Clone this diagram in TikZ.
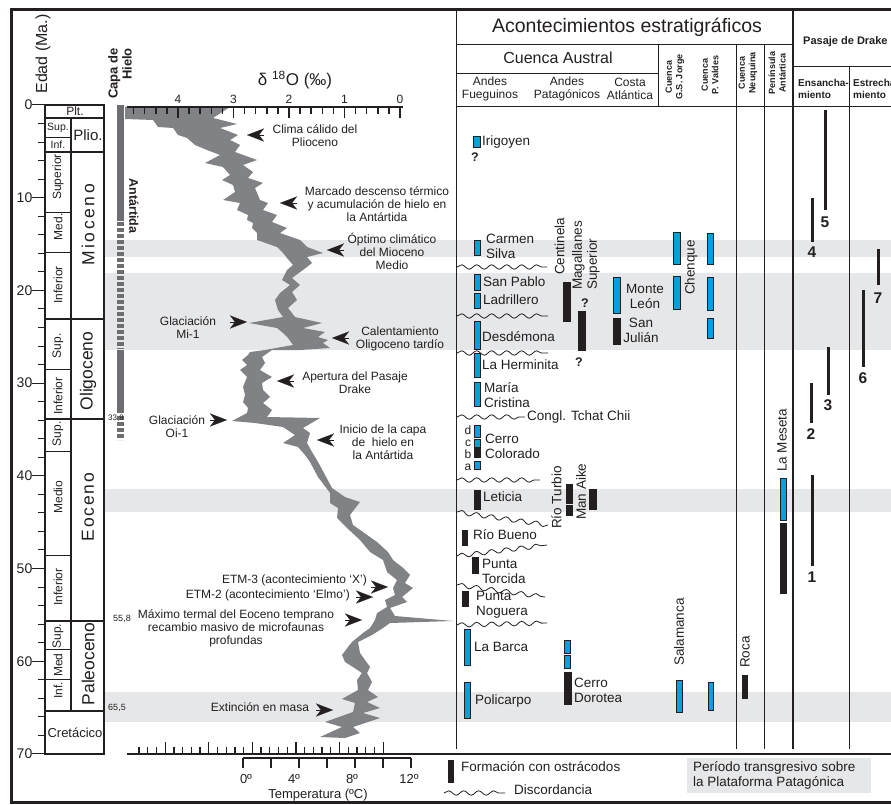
\documentclass[tikz,border=0pt]{standalone}
\usepackage{fontspec}
\setmainfont{Liberation Sans}
\usetikzlibrary{arrows.meta,decorations.pathmorphing}

\definecolor{banda}{RGB}{230,231,232}
\definecolor{curva}{RGB}{128,130,133}
\definecolor{hielo}{RGB}{109,110,113}
\definecolor{azulfm}{RGB}{0,161,224}
\definecolor{tinta}{RGB}{35,31,32}

\tikzset{
  nota/.style={font=\fontsize{12}{13}\selectfont, align=center},
  fm/.style={font=\fontsize{13.5}{15}\selectfont, align=left, anchor=west},
  vert/.style={font=\fontsize{13.5}{15}\selectfont, rotate=90},
  subep/.style={font=\fontsize{12}{12}\selectfont, rotate=90},
  epoca/.style={font=\fontsize{17.5}{17.5}\selectfont, rotate=90},
  cab/.style={font=\bfseries\fontsize{9}{10.5}\selectfont, rotate=90, align=center},
  azul/.style={fill=azulfm, draw=tinta, line width=0.6pt},
  negro/.style={fill=tinta, draw=tinta, line width=0.6pt},
  discord/.style={decorate, decoration={snake, segment length=15pt, amplitude=2.2pt}, line width=0.8pt, draw=tinta},
  drake/.style={line width=3pt, draw=tinta},
  num/.style={font=\bfseries\fontsize{15.5}{15.5}\selectfont},
  duda/.style={font=\bfseries\fontsize{12.5}{12.5}\selectfont},
  flecha/.style={-{Stealth[length=17pt,width=13pt,inset=5pt]}, draw=tinta, line width=0.1pt},
}

\begin{document}
\begin{tikzpicture}[x=1pt, y=-1pt, every node/.append style={inner sep=0pt, text=tinta}]
\useasboundingbox (0,0) rectangle (891,805);

% bandas de los periodos transgresivos
\fill[banda] (104,240) rectangle (891,257);
\fill[banda] (104,273) rectangle (891,350);
\fill[banda] (104,489) rectangle (891,512);
\fill[banda] (104,692) rectangle (891,722);

% marco
\draw[line width=3pt, tinta] (891,10) -- (11,10) -- (11,802.5) -- (891,802.5);

% escala de edades
\node[font=\fontsize{16}{16}\selectfont, rotate=90] (edad) at (43,54) {Edad (Ma.)};
\foreach \m in {0,2,...,70}{
  \pgfmathsetmacro\yy{105+9.27*\m}
  \pgfmathsetmacro\xx{mod(\m,10)==0 ? 32 : 38}
  \draw[line width=1pt, tinta] (\xx,\yy) -- (45,\yy);
}
\foreach \m in {0,10,...,70}
  \node[anchor=east, font=\fontsize{14}{14}\selectfont] (edad\m) at (32.5,{105+9.27*\m}) {\m};

% columna cronoestratigrafica
\draw[line width=1.5pt, tinta] (45,105) rectangle (104,754);
\draw[line width=1.5pt, tinta] (45,118) -- (104,118) (45,152) -- (104,152) (45,319) -- (104,319)
  (45,419) -- (104,419) (45,621) -- (104,621) (45,711) -- (104,711);
\draw[line width=1.2pt, tinta] (71,118) -- (71,711);
\draw[line width=0.8pt, tinta] (45,137) -- (71,137) (45,212) -- (71,212) (45,252) -- (71,252)
  (45,369) -- (71,369) (45,451) -- (71,451) (45,555) -- (71,555) (45,649) -- (71,649) (45,679) -- (71,679);
\node[font=\fontsize{12}{12}\selectfont] (plt) at (75,111.5) {Plt.};
\node[font=\fontsize{10.5}{10.5}\selectfont] (pliosup) at (58,127.5) {Sup.};
\node[font=\fontsize{10.5}{10.5}\selectfont] (plioinf) at (58,145) {Inf.};
\node[font=\fontsize{15}{15}\selectfont] (plio) at (88,135) {Plio.};
\node[subep] (miosup) at (58,177) {Superior};
\node[subep] (miomed) at (58,227) {Med.};
\node[subep] (mioinf) at (58,285) {Inferior};
\node[epoca, font={\fontsize{17.5}{17.5}\selectfont\addfontfeature{LetterSpace=15}}] (mioceno) at (88,225) {Mioceno};
\node[subep] (oligsup) at (58,346) {Sup.};
\node[subep] (oliginf) at (58,396) {Inferior};
\node[epoca] (oligoceno) at (88,371) {Oligoceno};
\node[subep] (eosup) at (58,434) {Sup.};
\node[subep] (eomed) at (58,497) {Medio};
\node[subep] (eoinf) at (58,587) {Inferior};
\node[epoca, font={\fontsize{17.5}{17.5}\selectfont\addfontfeature{LetterSpace=10}}] (eoceno) at (88,507) {Eoceno};
\node[subep] (paleosup) at (58,636) {Sup.};
\node[subep] (paleomed) at (58,665) {Med};
\node[subep] (paleoinf) at (58,690) {Inf.};
\node[epoca] (paleoceno) at (88,664) {Paleoceno};
\node[font=\fontsize{13}{13}\selectfont] (cretacico) at (75,733) {Cretácico};

% capa de hielo
\node[font=\bfseries\fontsize{13}{14}\selectfont, rotate=90, align=right] (capa) at (120,73.5) {Capa de\\Hielo};
\fill[hielo] (117,105) rectangle (124,221);
\draw[hielo, line width=7pt, dash pattern=on 3.5pt off 2.5pt] (120.5,222) -- (120.5,349);
\fill[hielo] (117,350) rectangle (124,413);
\draw[hielo, line width=7pt, dash pattern=on 3.5pt off 2.5pt] (120.5,416) -- (120.5,440);
\node[font=\bfseries\fontsize{12.5}{12.5}\selectfont, rotate=-90] (antartida) at (134,206) {Antártida};
\node[font=\fontsize{8}{8}\selectfont] (limite339) at (116,418) {33,9};
\node[font=\fontsize{9}{9}\selectfont] (limite558) at (122,619) {55,8};
\node[font=\fontsize{9}{9}\selectfont] (limite655) at (117,708) {65,5};

% curva de isotopos
\fill[curva] plot coordinates {(125,107) (125,119) (153,120) (158,127) (173,128) (178,135) (187,138)
  (195,145) (207,150) (220,155) (205,163) (223,167) (230,175) (222,180) (233,185) (235,192) (223,200)
  (240,203) (237,210) (248,215) (247,220) (253,223) (252,228) (257,233) (257,240) (277,247) (283,253)
  (287,258) (293,265) (287,270) (282,280) (290,285) (280,293) (275,300) (278,310) (283,317) (249,323)
  (277,328) (283,333) (288,338) (293,345) (265,350) (250,352) (248,355) (242,360) (247,365) (240,370)
  (247,377) (243,387) (245,395) (243,402) (248,408) (247,413) (232,421) (255,423) (283,427) (295,435)
  (283,443) (298,447) (305,455) (310,462) (318,477) (330,493) (330,503) (338,508) (337,518) (347,528)
  (360,540) (370,552) (383,560) (387,572) (397,580) (393,588) (395,595) (385,600) (387,607) (377,613)
  (375,620) (370,628) (363,633) (352,642) (348,647) (342,655) (345,662) (353,667) (362,673) (357,680)
  (358,690) (342,699) (355,703) (353,712) (325,722) (342,727) (320,737) (345,738)
  (360,733) (353,727) (380,718) (363,713) (380,708) (367,702) (378,697) (368,690) (372,682) (367,673)
  (370,667) (365,660) (360,653) (358,642) (372,635) (383,628) (390,623) (453,621) (395,616) (390,608)
  (407,602) (402,597) (413,588) (405,583) (410,575) (402,567) (393,560) (388,552) (377,542) (363,532)
  (353,525) (350,515) (360,502) (345,497) (332,488) (324,473) (318,462) (312,452) (307,443) (310,433)
  (303,428) (320,418) (267,417) (272,410) (263,403) (270,397) (263,390) (262,383) (272,377) (260,370)
  (265,363) (262,357) (272,350) (300,350) (330,348) (323,343) (328,340) (318,337) (325,332) (303,328)
  (322,323) (295,317) (288,308) (297,300) (292,292) (300,285) (292,278) (303,270) (312,263) (307,257)
  (323,253) (307,247) (300,240) (280,233) (287,228) (272,222) (277,215) (263,210) (268,203) (260,200)
  (255,188) (263,183) (248,178) (253,172) (243,165) (257,160) (235,152) (240,145) (230,140) (238,135)
  (220,128) (237,124) (213,118) (230,107)} -- cycle;

% eje delta 18O
\node[font=\fontsize{17}{17}\selectfont] (titulo18O) at (295,80) {δ \textsuperscript{18}O (‰)};
\draw[line width=1.3pt, tinta] (127,107) -- (403,107);
\foreach \i in {0,...,24}{
  \pgfmathsetmacro\xx{400-11.1*\i}
  \pgfmathsetmacro\ll{mod(\i,5)==0 ? 118 : 114}
  \draw[line width=1.5pt, tinta] (\xx,107) -- (\xx,\ll);
}
\foreach \v in {0,...,4}
  \node[font=\fontsize{12}{12}\selectfont] (dO\v) at ({400-55.5*\v},99) {\v};

% eje de temperatura
\draw[line width=2pt, tinta] (127,754) -- (891,754);
\foreach \i in {0,...,28}{
  \pgfmathsetmacro\xx{139+8.72*\i}
  \pgfmathsetmacro\ll{mod(\i,5)==3 ? 742 : 747}
  \draw[line width=1.3pt, tinta] (\xx,754) -- (\xx,\ll);
}
\draw[line width=1.3pt, tinta] (243,758) -- (411,758);
\foreach \i in {0,...,6}
  \draw[line width=1.3pt, tinta] ({243+28*\i},758) -- ({243+28*\i},768);
\foreach \t/\x in {0/246, 4/294, 8/352, 12/409}
  \node[font=\fontsize{13}{13}\selectfont] (temp\t) at (\x,779) {\t{}º};
\node[font=\fontsize{13}{13}\selectfont] (temperatura) at (318,795) {Temperatura (ºC)};

% acontecimientos climaticos
\foreach \x/\y in {247/135, 280/203, 327/250, 332/338, 277/381, 317/440}
  \draw[flecha] (\x+17,\y) -- (\x,\y);
\foreach \x/\y in {247/322, 227/420, 388/587, 373/597, 362/620, 333/710}
  \draw[flecha] (\x-17,\y) -- (\x,\y);
\node[nota] (plioceno) at (315,136) {Clima cálido del\\Plioceno};
\node[nota] (descenso) at (377,204) {Marcado descenso térmico\\y acumulación de hielo en\\la Antártida};
\node[nota] (optimo) at (392,251) {Óptimo climático\\del Mioceno\\Medio};
\node[nota] (mi1) at (188,328) {Glaciación\\Mi-1};
\node[nota] (calentamiento) at (400,339) {Calentamiento\\Oligoceno tardío};
\node[nota] (apertura) at (355,383) {Apertura del Pasaje\\Drake};
\node[nota] (oi1) at (177,427) {Glaciación\\Oi-1};
\node[nota] (inicio) at (383,442) {Inicio de la capa\\de~~hielo en\\la Antártida};
\node[nota, anchor=east] (etm3) at (367,580) {ETM-3 (acontecimiento ‘X’)};
\node[nota, anchor=east] (etm2) at (350,595) {ETM-2 (acontecimiento ‘Elmo’)};
\node[nota] (maximo) at (236,628) {Máximo termal del Eoceno temprano\\recambio masivo de microfaunas\\profundas};
\node[nota] (extincion) at (260,707) {Extinción en masa};

% tabla de acontecimientos estratigraficos
\draw[line width=1pt, tinta] (456,10) -- (456,749);
\draw[line width=2pt, tinta] (793,10) -- (793,749);
\draw[line width=0.8pt, tinta] (456,44) -- (793,44) (456,73) -- (658,73) (456,106) -- (891,106)
  (658,44) -- (658,106) (736,44) -- (736,749) (764,44) -- (764,749);
\draw[line width=1pt, tinta] (793,67) -- (891,67) (849,67) -- (849,749);
\node[font=\fontsize{19.5}{19.5}\selectfont] (acontecimientos) at (627,27) {Acontecimientos estratigráficos};
\node[font=\fontsize{16}{16}\selectfont] (austral) at (558,58) {Cuenca Austral};
\node[font=\fontsize{12}{13}\selectfont, align=center] (fueguinos) at (490,88.5) {Andes\\Fueguinos};
\node[font=\fontsize{12}{13}\selectfont, align=center] (patagonicos) at (567,88.5) {Andes\\Patagónicos};
\node[font=\fontsize{12}{13}\selectfont, align=center] (atlantica) at (630,88.5) {Costa\\Atlántica};
\node[cab] (gsjorge) at (675,77) {Cuenca\\G.S. Jorge};
\node[cab] (pvaldes) at (710,75) {Cuenca\\P. Valdes};
\node[cab] (neuquina) at (748,73) {Cuenca\\Neuquina};
\node[cab] (peninsula) at (777,73) {Península\\Antártica};
\node[font=\bfseries\fontsize{11}{11}\selectfont, anchor=west] (pasaje) at (803,42) {Pasaje de Drake};
\node[font=\bfseries\fontsize{10}{12}\selectfont, align=left, anchor=west] (ensancha) at (798,88.5) {Ensancha-\\miento};
\node[font=\bfseries\fontsize{10}{12}\selectfont, align=left, anchor=west] (estrecha) at (853,88.5) {Estrecha-\\miento};

% discordancias
\foreach \a/\b/\c/\d in {457/267/547/267, 457/316/548/316, 457/353/548/353, 457/417/525/417,
  457/480/540/480, 457/512/548/525, 457/556/547/545, 457/585/545/597, 457/625/547/623}
  \draw[discord] (\a,\b) -- (\c,\d);

% formaciones
\foreach \a/\b/\c/\d in {473/136/480/147, 474/240/480/255, 474/274/480/290, 474/293/480/308,
  474/321/480/349, 474/353/480/377, 474/382/480/406, 474/425/480/437, 474/439/480/447,
  474/461/480/469, 464/629/470/665, 464/682/470/718, 564/640/570/653, 564/655/570/668,
  613/277/620/313, 673/232/680/264, 673/276/680/309, 707/233/713/264, 707/277/713/310,
  707/318/713/338, 676/680/682/712, 708/682/713/710, 780/478/786/520}
  \filldraw[azul] (\a,\b) rectangle (\c,\d);
\foreach \a/\b/\c/\d in {474/447/480/457, 474/490/480/509, 462/530/467/545, 472/557/478/573,
  462/591/468/606, 563/282/570/321, 578/311/585/350, 613/318/620/344, 566/484/572/503,
  566/505/572/515, 589/489/596/509, 564/672/571/704, 742/675/747/698, 780/523/786/593}
  \filldraw[negro] (\a,\b) rectangle (\c,\d);

\node[fm] (irigoyen) at (482,142) {Irigoyen};
\node[duda] (duda1) at (475,157) {?};
\node[fm] (carmen) at (486,246) {Carmen\\Silva};
\node[fm] (sanpablo) at (483,282) {San Pablo};
\node[fm] (ladrillero) at (483,300) {Ladrillero};
\node[fm] (desdemona) at (482,337) {Desdémona};
\node[fm] (herminita) at (482,365) {La Herminita};
\node[fm] (maria) at (484,395) {María\\Cristina};
\node[fm] (tchat) at (527,417) {Congl. Tchat Chii};
\node[fm] (colorado) at (485,446) {Cerro\\Colorado};
\foreach \l/\y in {d/430, c/443, b/454, a/467}
  \node[font=\fontsize{12}{12}\selectfont] (miembro\l) at (468,\y) {\l};
\node[fm] (leticia) at (483,497) {Leticia};
\node[fm] (riobueno) at (473,535) {Río Bueno};
\node[fm] (torcida) at (482,571) {Punta\\Torcida};
\node[fm] (noguera) at (476,605) {Punta\\Noguera};
\node[fm] (labarca) at (474,647) {La Barca};
\node[fm] (policarpo) at (475,701) {Policarpo};
\node[fm] (dorotea) at (574,690) {Cerro\\Dorotea};
\node[vert, anchor=west] (centinela) at (559.5,275) {Centinela};
\node[vert, anchor=west, align=left] (magallanes) at (586,290) {Magallanes\\Superior};
\node[duda] (duda2) at (585,303) {?};
\node[duda] (duda3) at (579,362) {?};
\node[vert, anchor=west] (rioturbio) at (556.5,529) {Río Turbio};
\node[vert, anchor=west] (manaike) at (581,520) {Man Aike};
\node[font=\fontsize{13.5}{15}\selectfont, align=center] (monteleon) at (645,296) {Monte\\León};
\node[font=\fontsize{13.5}{15}\selectfont, align=center] (sanjulian) at (641,330.5) {San\\Julián};
\node[vert, anchor=west] (chenque) at (691,295) {Chenque};
\node[vert] (salamanca) at (679,632) {Salamanca};
\node[vert] (roca) at (745,652) {Roca};
\node[vert, anchor=west] (meseta) at (782,472) {La Meseta};

% pasaje de Drake
\foreach \x/\a/\b/\n/\l in {812/475/566/1/577, 811/383/423/2/434, 828/347/395/3/405,
  812/198/242/4/252, 825/110/210/5/222, 863/290/367/6/378, 878/249/285/7/298}{
  \draw[drake] (\x,\a) -- (\x,\b);
  \node[num] (drake\n) at (\x,\l) {\n};
}
\node[num] (drake8) at (895,287) {8};

% leyenda
\filldraw[negro] (448,760) rectangle (453,782);
\node[fm] (ostracodos) at (461,767) {Formación con ostrácodos};
\draw[discord] (444,793) -- (505,793);
\node[fm] (discordancia) at (514,790) {Discordancia};
\fill[banda] (687,758) rectangle (871,793);
\node[fm] (transgresivo) at (693,775) {Período transgresivo sobre\\la Plataforma Patagónica};
\end{tikzpicture}
\end{document}
